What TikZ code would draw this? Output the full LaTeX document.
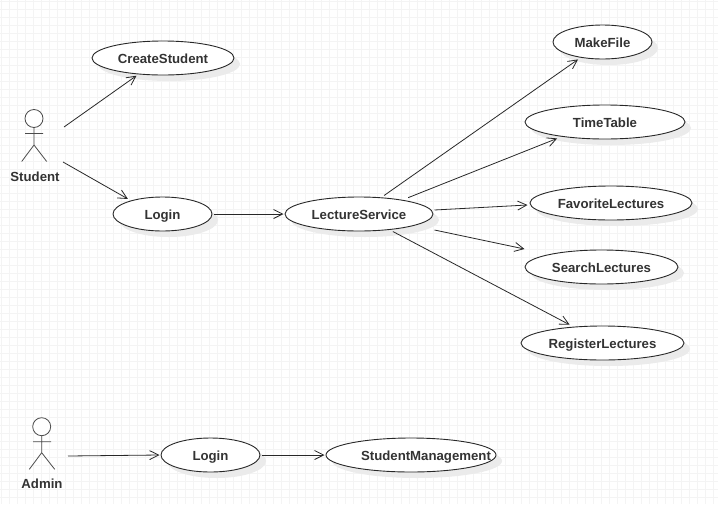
\documentclass[tikz,border=0pt]{standalone}
\usepackage{fontspec}
\setmainfont{Liberation Sans}
\usetikzlibrary{shapes.geometric,arrows.meta,shadows}
\definecolor{gridc}{RGB}{244,244,244}
\definecolor{linec}{RGB}{40,40,40}
\newcommand\uctext[2][0pt]{\makebox[0pt]{\hspace*{#1}\smash{\raisebox{-5pt}{#2}}}}
\tikzset{
  usecase/.style={ellipse,draw=linec,fill=white,line width=0.9pt,minimum height=34pt,
    inner sep=0pt,outer sep=1.5pt,
    font=\fontsize{13.2}{15}\selectfont\bfseries,text=black!80,
    drop shadow={shadow xshift=6pt,shadow yshift=-6pt,fill=black!8,opacity=1}},
  actorlabel/.style={font=\fontsize{13.2}{15}\selectfont\bfseries,text=black!80,inner sep=0pt},
  assoc/.style={draw=linec,line width=0.8pt,-{Straight Barb[length=9pt,width=9pt,line width=0.8pt]}},
  stick/.style={draw=black!70,line width=0.8pt}
}
\begin{document}
\begin{tikzpicture}[x=1pt,y=-1pt]
\useasboundingbox (0,0) rectangle (718,504);
\fill[white] (0,0) rectangle (718,504);
\draw[gridc,line width=1pt,step=8pt,shift={(1,1)}] (-1,-1) grid (717,503);
% use cases
\node[usecase,minimum width=142pt] (cs) at (163,58) {\uctext{CreateStudent}};
\node[usecase,minimum width=99pt] (lg1) at (162.5,214) {\uctext{Login}};
\node[usecase,minimum width=148pt] (ls) at (359,214) {\uctext{LectureService}};
\node[usecase,minimum width=99pt] (mf) at (602.5,42) {\uctext{MakeFile}};
\node[usecase,minimum width=160pt] (tt) at (605,122) {\uctext{TimeTable}};
\node[usecase,minimum width=162pt] (fl) at (611,203) {\uctext{FavoriteLectures}};
\node[usecase,minimum width=153pt] (sl) at (601.5,267) {\uctext{SearchLectures}};
\node[usecase,minimum width=163pt] (rl) at (602.5,343) {\uctext{RegisterLectures}};
\node[usecase,minimum width=99pt] (lg2) at (210.5,455) {\uctext{Login}};
\node[usecase,minimum width=170pt] (sm) at (411,455) {\uctext[30pt]{StudentManagement}};
% actors
\draw[stick,fill=white] (34,118.5) circle (9pt);
\draw[stick] (34,127.5) -- (34,145) (25,133.5) -- (43,133.5) (21.7,161.5) -- (34,145) -- (46.7,161.5);
\node[actorlabel] (student) at (35,176.5) {Student};
\draw[stick,fill=white] (41.7,426.7) circle (9pt);
\draw[stick] (41.7,435.7) -- (41.7,452.7) (33,441.7) -- (51,441.7) (29.3,469.3) -- (41.7,452.7) -- (54.7,469.3);
\node[actorlabel] (admin) at (42,484) {Admin};
\coordinate (sa) at (64,127);
\coordinate (sb) at (63,162);
\coordinate (aa) at (68,456);
% connectors
\draw[assoc] (sa) -- ([shift={(0,0.5)}]cs.213);
\draw[assoc] (sb) -- ([shift={(-5,0)}]lg1.153);
\draw[assoc] (lg1.east) -- (ls.west);
\draw[assoc] ([shift={(1,-1)}]ls.36) -- ([shift={(-1,1)}]mf.215);
\draw[assoc] ([shift={(7,-1)}]ls.20) -- ([shift={(-3,1)}]tt.199.5);
\draw[assoc] ([shift={(0,-4)}]ls.east) -- ([shift={(-1,2)}]fl.west);
\draw[assoc] ([shift={(0,16)}]ls.east) -- ([shift={(1,-18)}]sl.west);
\draw[assoc] ([shift={(0,1)}]ls.-26.6) -- ([shift={(-3,-1)}]rl.150.4);
\draw[assoc] (aa) -- (lg2.west);
\draw[assoc] (lg2.east) -- (sm.west);
\end{tikzpicture}
\end{document}
